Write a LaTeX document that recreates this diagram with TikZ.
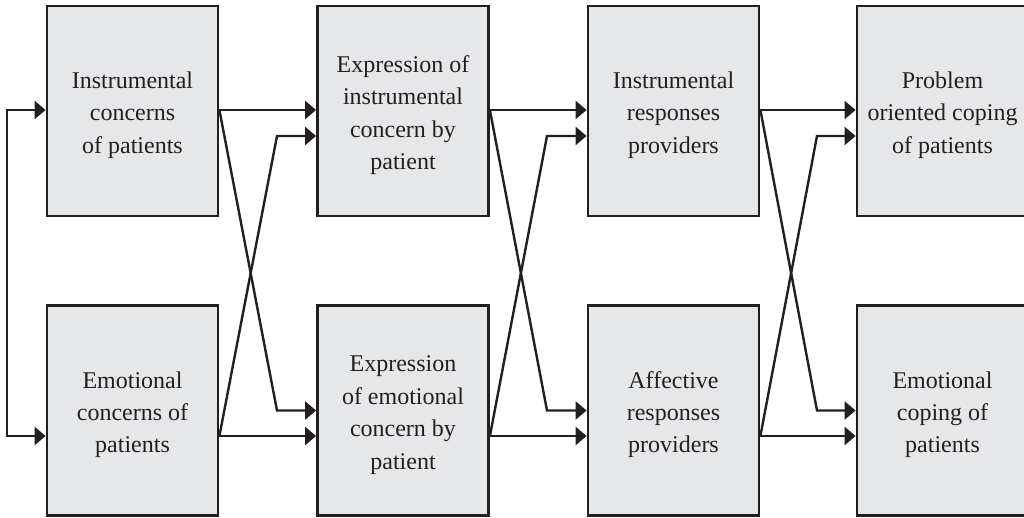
\documentclass[tikz,border=0pt]{standalone}
\usepackage{fontspec}
\setmainfont{Liberation Serif}
\usetikzlibrary{arrows.meta,calc}
\definecolor{boxfill}{HTML}{E6E7E9}
\definecolor{ink}{HTML}{231F20}
\newcommand\liftline{\rule{0pt}{12.5pt}}
\begin{document}
\begin{tikzpicture}[x=0.5pt,y=-0.5pt,
  stagebox/.style={draw=ink,line width=1.4pt,fill=boxfill,rectangle,
    minimum width=85.5pt,minimum height=105pt,align=center,inner sep=0pt,
    font=\fontsize{12}{16.2}\selectfont,text=ink},
  arr/.style={draw=ink,line width=1.2pt,-{Triangle[length=5.5pt,width=9pt]}},
  arrb/.style={draw=ink,line width=1.2pt,{Triangle[length=5.5pt,width=9pt]}-{Triangle[length=5.5pt,width=9pt]}}]
\useasboundingbox (0,0) rectangle (1024,518);
% boxes
\node[stagebox] (a1) at (132.5,111) {\liftline Instrumental\\concerns\\of patients};
\node[stagebox] (a2) at (132.5,410.5) {\liftline Emotional\\concerns of\\patients};
\node[stagebox] (b1) at (403,111) {\liftline Expression of\\instrumental\\concern by\\patient};
\node[stagebox] (b2) at (403,410.5) {\liftline Expression\\of emotional\\concern by\\patient};
\node[stagebox] (c1) at (673.5,111) {\liftline Instrumental\\responses\\providers};
\node[stagebox] (c2) at (673.5,410.5) {\liftline Affective\\responses\\providers};
\node[stagebox] (d1) at (942.5,111) {\liftline Problem\\oriented coping\\of patients};
\node[stagebox] (d2) at (942.5,410.5) {\liftline Emotional\\coping of\\patients};
% ports
\foreach \n in {a,b,c,d}{
  \coordinate (\n1w) at ([yshift=0.5pt]\n1.west);
  \coordinate (\n1e) at ([yshift=0.5pt]\n1.east);
  \coordinate (\n1x) at ([yshift=-12.5pt]\n1.west);
  \coordinate (\n2w) at ([yshift=-12.75pt]\n2.west);
  \coordinate (\n2e) at ([yshift=-12.75pt]\n2.east);
  \coordinate (\n2x) at (\n2.west);
}
\coordinate (k1) at (277,0);
\coordinate (k2) at (547,0);
\coordinate (k3) at (817,0);
\coordinate (lf) at (7,0);
% feedback loop
\draw[arrb] (a1w) -- (lf |- a1w) -- (lf |- a2w) -- (a2w);
% connectors
\draw[arr] (a1e) -- (b1w);
\draw[arr] (a2e) -- (b2w);
\draw[arr] (a1e) -- (k1 |- b2x) -- (b2x);
\draw[arr] (a2e) -- (k1 |- b1x) -- (b1x);
\draw[arr] (b1e) -- (c1w);
\draw[arr] (b2e) -- (c2w);
\draw[arr] (b1e) -- (k2 |- c2x) -- (c2x);
\draw[arr] (b2e) -- (k2 |- c1x) -- (c1x);
\draw[arr] (c1e) -- (d1w);
\draw[arr] (c2e) -- (d2w);
\draw[arr] (c1e) -- (k3 |- d2x) -- (d2x);
\draw[arr] (c2e) -- (k3 |- d1x) -- (d1x);
\end{tikzpicture}
\end{document}
